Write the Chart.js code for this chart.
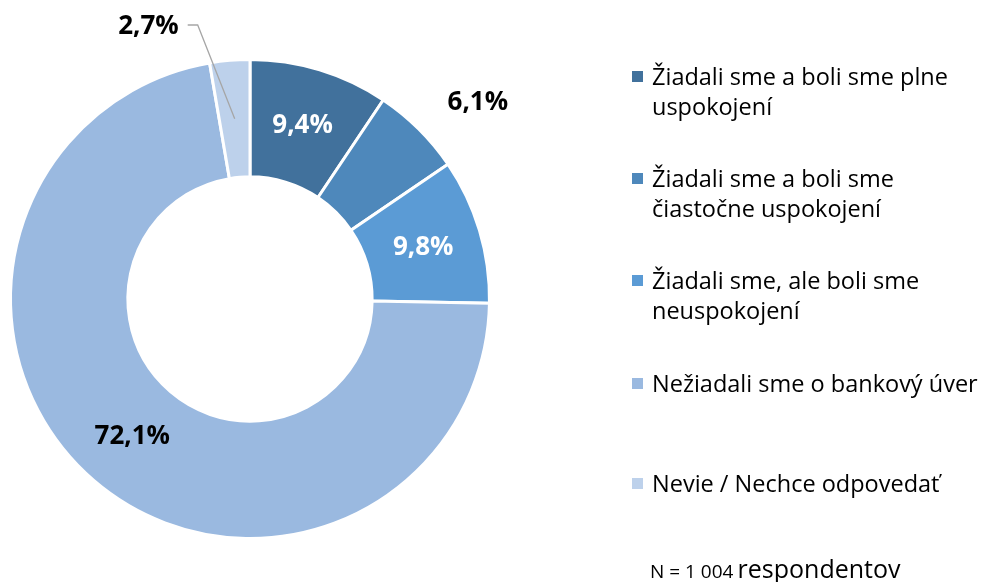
<!DOCTYPE html>
<html lang="sk">
<head>
<meta charset="UTF-8">
<script src="https://cdn.jsdelivr.net/npm/chart.js@4.4.0/dist/chart.umd.min.js"></script>
<style>
  body{margin:0;background:#fff;font-family:"Open Sans",sans-serif;}
  #wrap{position:relative;width:992px;height:582px;}
  #legend{position:absolute;left:0;top:0;}
  .item{position:absolute;left:632px;font-size:23.5px;line-height:30px;color:#000;}
  .item span.box{position:absolute;left:0;top:10px;width:11px;height:11px;}
  .item div{margin-left:20px;white-space:nowrap;}
  #note{position:absolute;left:650px;top:551px;color:#000;white-space:nowrap;}
</style>
</head>
<body>
<div id="wrap">
  <canvas id="donut" width="992" height="582"></canvas>
  <div id="legend"></div>
  <div id="note"><span style="font-size:19px">N = 1 004</span> <span style="font-size:25px">respondentov</span></div>
</div>
<script>
  var labels = [
    ['Žiadali sme a boli sme plne', 'uspokojení'],
    ['Žiadali sme a boli sme', 'čiastočne uspokojení'],
    ['Žiadali sme, ale boli sme', 'neuspokojení'],
    ['Nežiadali sme o bankový úver'],
    ['Nevie / Nechce odpovedať']
  ]
  var values = [9.4, 6.1, 9.8, 72.1, 2.7]
  var colors = ['#41719c', '#4e88bb', '#5b9bd5', '#9ab9e0', '#bdd1eb']
  var legendTops = [61, 163, 265, 368, 468]

  var leg = document.getElementById('legend')
  for (let i = 0; i < labels.length; i++) {
    var d = document.createElement('div')
    d.className = 'item'
    d.style.top = legendTops[i] + 'px'
    d.innerHTML = '<span class="box" style="background:' + colors[i] + '"></span><div>' + labels[i].join('<br>') + '</div>'
    leg.appendChild(d)
  }

  function fmt(v){ return v.toFixed(1).replace('.', ',') + '%' }

  var valueLabels = {
    id: 'valueLabels',
    afterDatasetsDraw(chart) {
      var ctx = chart.ctx
      var meta = chart.getDatasetMeta(0)
      ctx.save()
      ctx.font = 'bold 26px "Open Sans"'
      ctx.textAlign = 'center'
      ctx.textBaseline = 'middle'
      meta.data.forEach(function(arc, i){
        var p = arc.getProps(['x','y','startAngle','endAngle','innerRadius','outerRadius'], true)
        var mid = (p.startAngle + p.endAngle) / 2
        var txt = fmt(values[i])
        if (i == 1) {
          // outside label
          ctx.fillStyle = '#000'
          ctx.fillText(txt, p.x + Math.cos(mid) * (p.outerRadius + 84), p.y + Math.sin(mid) * (p.outerRadius + 37))
        } else if (i == 4) {
          // small slice: label above with leader line
          var rr = (p.innerRadius + p.outerRadius) / 2
          var ax = p.x + Math.cos(mid) * rr, ay = p.y + Math.sin(mid) * rr
          ctx.strokeStyle = '#a6a6a6'
          ctx.lineWidth = 1.3
          ctx.beginPath()
          ctx.moveTo(ax, ay)
          ctx.lineTo(ax - 37, 25)
          ctx.lineTo(ax - 47, 25)
          ctx.stroke()
          ctx.fillStyle = '#000'
          ctx.textAlign = 'right'
          ctx.fillText(txt, ax - 56, 27)
          ctx.textAlign = 'center'
        } else {
          var rm = (p.innerRadius + p.outerRadius) / 2
          ctx.fillStyle = i == 3 ? '#000' : '#fff'
          ctx.fillText(txt, p.x + Math.cos(mid) * rm, p.y + Math.sin(mid) * rm)
        }
      })
      ctx.restore()
    }
  }

  new Chart(document.getElementById('donut'), {
    type: 'doughnut',
    data: {
      labels: labels.map(l => l.join(' ')),
      datasets: [{
        data: values,
        backgroundColor: colors,
        borderColor: '#fff',
        borderWidth: 3
      }]
    },
    options: {
      responsive: false,
      animation: false,
      cutout: '51%',
      layout: { padding: { left: 9, right: 501, top: 58, bottom: 42 } },
      plugins: { legend: { display: false }, tooltip: { enabled: false } }
    },
    plugins: [valueLabels]
  })
</script>
</body>
</html>
